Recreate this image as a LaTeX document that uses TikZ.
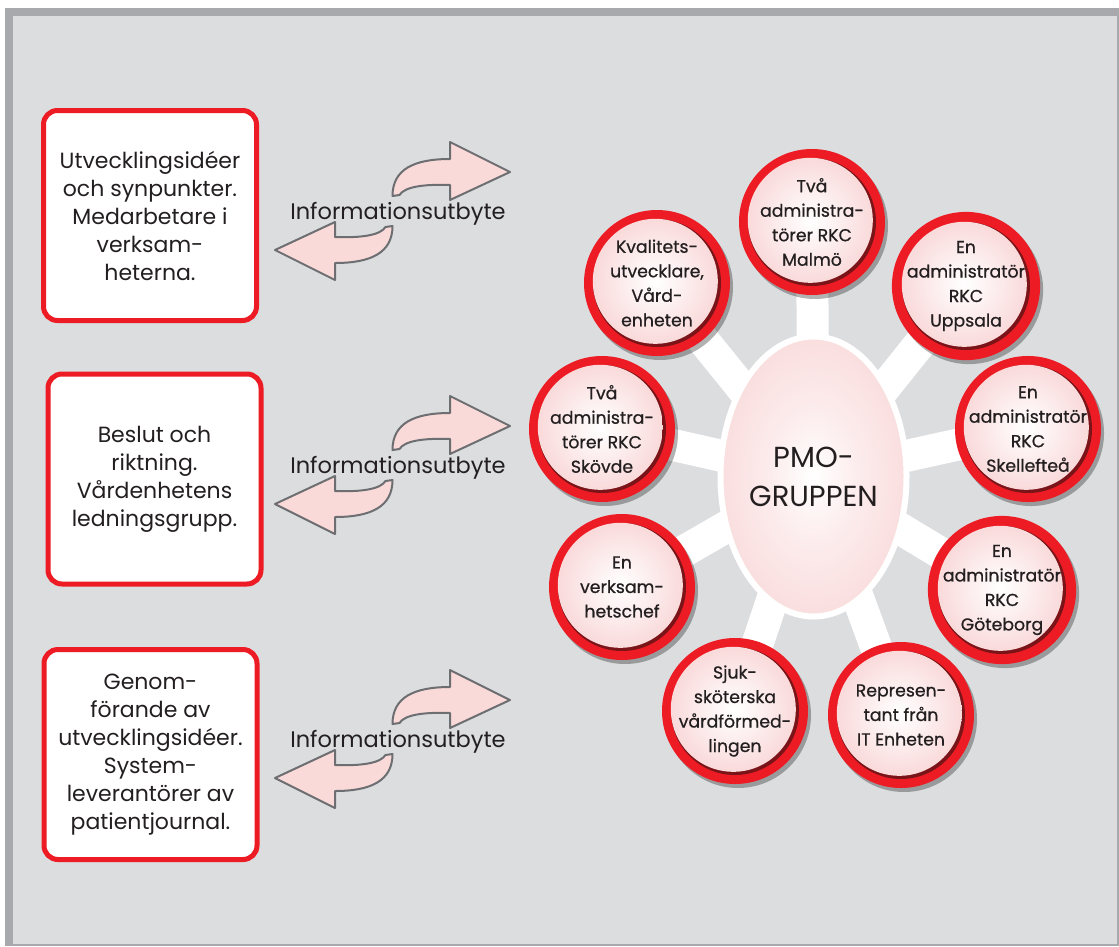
\documentclass[tikz,border=0pt]{standalone}
\usepackage{fontspec}
\setmainfont{Poppins}
\newfontfamily\memberfont{Poppins}[FakeBold=0.7]
\usetikzlibrary{shapes.geometric,shadows}
\definecolor{bgframe}{HTML}{A7A9AC}
\definecolor{bgfill}{HTML}{DCDDDF}
\definecolor{ringred}{HTML}{ED1C24}
\definecolor{ringdark}{HTML}{7A1418}
\definecolor{txt}{HTML}{231F20}
\definecolor{pinkA}{HTML}{F8CFD0}
\definecolor{pinkB}{HTML}{F2B0B2}
\definecolor{eggedge}{HTML}{F6C3C4}
\definecolor{arrowfill}{HTML}{FADAD9}
\definecolor{arrowline}{HTML}{6D6E71}
\pgfdeclareradialshading{pinkglow}{\pgfpoint{0bp}{0bp}}{color(0bp)=(white); color(10bp)=(white!70!pinkA); color(32bp)=(pinkA); color(50bp)=(pinkB)}
\pgfdeclareradialshading{eggglow}{\pgfpoint{0bp}{0bp}}{color(0bp)=(white); color(12bp)=(white!60!pinkA); color(50bp)=(eggedge)}
\pgfdeclarelayer{bg}
\pgfdeclarelayer{spokes}
\pgfsetlayers{bg,spokes,main}
\newcommand\infopair[1]{%
  \begin{scope}[shift={(392.5,#1)}]
    \path[infoarrow] (0,-15) .. controls (0,-42) and (22,-52) .. (57.5,-52) -- (57.5,-69) -- (117.5,-39) -- (57.5,-11) -- (57.5,-26) .. controls (30,-27) and (12,-24) .. (7,-16) -- cycle;
    \path[infoarrow,rotate=180] (0,-15) .. controls (0,-42) and (22,-52) .. (57.5,-52) -- (57.5,-69) -- (117.5,-39) -- (57.5,-11) -- (57.5,-26) .. controls (30,-27) and (12,-24) .. (7,-16) -- cycle;
  \end{scope}}
\begin{document}
\begin{tikzpicture}[x=1pt,y=-1pt,
  box/.style={draw=ringred, line width=5pt, fill=white, rounded corners=14pt,
    minimum width=213pt, minimum height=210pt, align=center, text=txt,
    font=\fontsize{22}{28}\selectfont},
  member/.style={circle, minimum size=146pt, inner sep=0pt, fill=ringred, text=txt,
    align=center, font=\memberfont\fontsize{17.3}{24.5}\selectfont,
    drop shadow={shadow xshift=3pt, shadow yshift=-4pt, fill=black, opacity=0.3},
    path picture={
      \fill[ringdark] (path picture bounding box.center) circle (64pt);
      \shade[shading=pinkglow] ([xshift=-1.7pt,yshift=1.7pt]path picture bounding box.center) circle (62.5pt);
    }},
  egg/.style={ellipse, minimum width=186pt, minimum height=280pt, inner sep=0pt,
    draw=white, line width=6pt, shading=eggglow, shade, text=txt, align=center,
    font=\fontsize{29}{39}\selectfont},
  infoarrow/.style={fill=arrowfill, draw=arrowline, line width=2pt, line join=round},
  infotext/.style={anchor=base, text=txt, font=\fontsize{22.5}{26}\selectfont},
  spoke/.style={draw=white, line width=32pt}]
\begin{pgfonlayer}{bg}
\useasboundingbox (0,0) rectangle (1119,946);
\fill[bgframe] (5,8) rectangle (1119,946);
\fill[bgfill] (13,16) rectangle (1117,944);
\end{pgfonlayer}

% left boxes
\node[box] (b1) at (150,215.5) {Utvecklingsidéer\\och synpunkter.\\Medarbetare i\\verksam-\\heterna.};
\node[box] (b2) at (154.5,479) {Beslut och\\riktning.\\Vårdenhetens\\ledningsgrupp.};
\node[box] (b3) at (150.5,754.5) {Genom-\\förande av\\utvecklingsidéer.\\System-\\leverantörer av\\patientjournal.};

% exchange arrows
\infopair{211}
\infopair{465}
\infopair{739}
\node[infotext] (i1) at (398,219) {Informationsutbyte};
\node[infotext] (i2) at (398,473) {Informationsutbyte};
\node[infotext] (i3) at (398,747) {Informationsutbyte};

% PMO group
\node[egg] (pmo) at (813.5,476.5) {PMO-\\GRUPPEN};
\node[member] (m1) at (812,222) {Två\\administra-\\törer RKC\\Malmö};
\node[member] (m2) at (966,286) {En\\administratör\\RKC\\Uppsala};
\node[member] (m3) at (1028,429) {En\\administratör\\RKC\\Skellefteå};
\node[member] (m4) at (1002,590) {En\\administratör\\RKC\\Göteborg};
\node[member] (m5) at (901,715) {Represen-\\tant från\\IT Enheten};
\node[member] (m6) at (735,711) {Sjuk-\\sköterska\\vårdförmed-\\lingen};
\node[member] (m7) at (622,587) {En\\verksam-\\hetschef};
\node[member] (m8) at (602,429) {Två\\administra-\\törer RKC\\Skövde};
\node[member] (m9) at (657,283) {Kvalitets-\\utvecklare,\\Vård-\\enheten};

\begin{pgfonlayer}{spokes}
\foreach \i in {1,...,9} \draw[spoke] (pmo.center) -- (m\i.center);
\end{pgfonlayer}
\end{tikzpicture}
\end{document}
